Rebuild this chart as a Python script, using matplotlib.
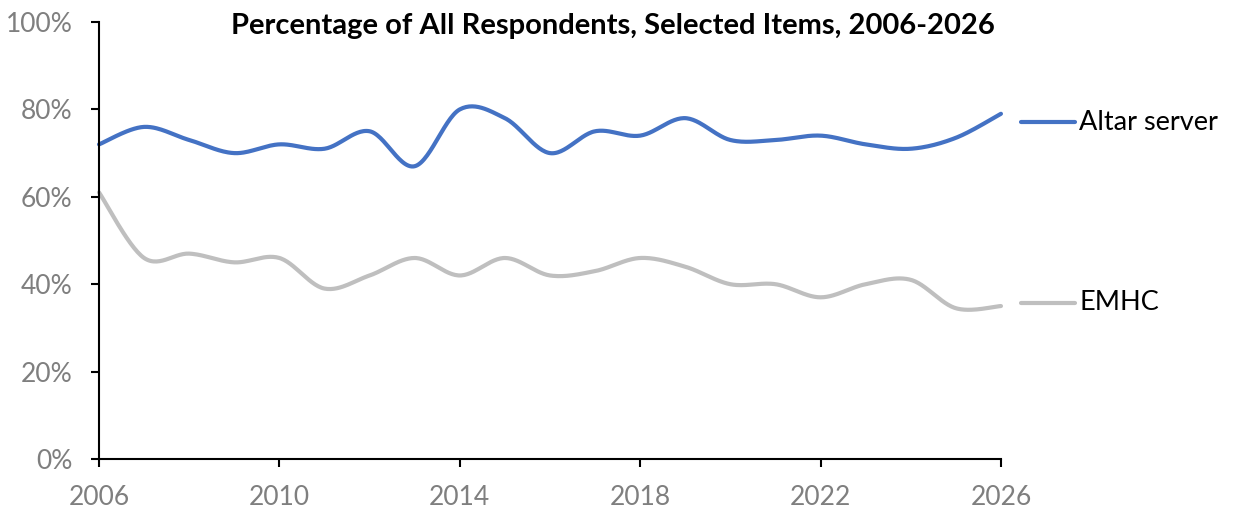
import numpy as np
import matplotlib
matplotlib.use("Agg")
import matplotlib.pyplot as plt
from matplotlib.ticker import PercentFormatter
from matplotlib.lines import Line2D

years = list(range(2006, 2027))
altar_server = [72, 76, 73, 70, 72, 71, 75, 67, 80, 78, 70, 75, 74, 78, 73, 73, 74, 72, 71, 73.5, 79]
emhc = [61, 46, 47, 45, 46, 39, 42, 46, 42, 46, 42, 43, 46, 44, 40, 40, 37, 40, 41, 34.5, 35]
series_names = ["Altar server", "EMHC"]
x_ticks = [2006, 2010, 2014, 2018, 2022, 2026]
title = "Percentage of All Respondents, Selected Items, 2006-2026"

plt.rcParams["font.family"] = ["Lato", "DejaVu Sans"]


def smooth(xs, ys, steps=30):
    # excel-style smoothed line: catmull-rom bezier through the points
    xs = np.asarray(xs, float)
    ys = np.asarray(ys, float)
    px = np.concatenate([[xs[0]], xs, [xs[-1]]])
    py = np.concatenate([[ys[0]], ys, [ys[-1]]])
    t = np.linspace(0, 1, steps)
    outx, outy = [], []
    for i in range(1, len(px) - 2):
        p0 = np.array([px[i], py[i]])
        p3 = np.array([px[i + 1], py[i + 1]])
        c1 = p0 + (np.array([px[i + 1], py[i + 1]]) - np.array([px[i - 1], py[i - 1]])) / 6
        c2 = p3 - (np.array([px[i + 2], py[i + 2]]) - np.array([px[i], py[i]])) / 6
        pts = (np.outer((1 - t) ** 3, p0) + np.outer(3 * (1 - t) ** 2 * t, c1)
               + np.outer(3 * (1 - t) * t ** 2, c2) + np.outer(t ** 3, p3))
        outx.extend(pts[:, 0])
        outy.extend(pts[:, 1])
    return outx, outy


fig = plt.figure(figsize=(12.33, 5.18), dpi=100)
ax = fig.add_axes([0.0803, 0.1139, 0.7315, 0.8436])

colors = ["#4472C4", "#BFBFBF"]
for vals, c in zip([altar_server, emhc], colors):
    sx, sy = smooth(years, vals)
    ax.plot(sx, sy, color=c, lw=3, solid_capstyle="round", clip_on=False)

ax.set_xlim(2006, 2026)
ax.set_ylim(0, 100)
ax.set_xticks(x_ticks)
ax.set_yticks([0, 20, 40, 60, 80, 100])
ax.yaxis.set_major_formatter(PercentFormatter(decimals=0))
ax.tick_params(direction="out", length=6, width=1.5, color="black",
               labelsize=19, labelcolor="#7F7F7F")
ax.tick_params(axis="x", pad=13)
ax.tick_params(axis="y", pad=13)
for s in ["top", "right"]:
    ax.spines[s].set_visible(False)
for s in ["left", "bottom"]:
    ax.spines[s].set_linewidth(1.5)

fig.text(613 / 1233, 1 - 26 / 518, title, ha="center", va="center",
         fontsize=21, fontweight="bold")

# legend entries on the right
for name, c, ypx in zip(series_names, colors, [122, 303]):
    yf = 1 - ypx / 518
    fig.add_artist(Line2D([1021 / 1233, 1075 / 1233], [yf, yf], color=c, lw=3,
                          solid_capstyle="round"))
    fig.text(1079 / 1233, yf, name, ha="left", va="center", fontsize=19.5, color="black")

fig.savefig("out.png", dpi=100)
